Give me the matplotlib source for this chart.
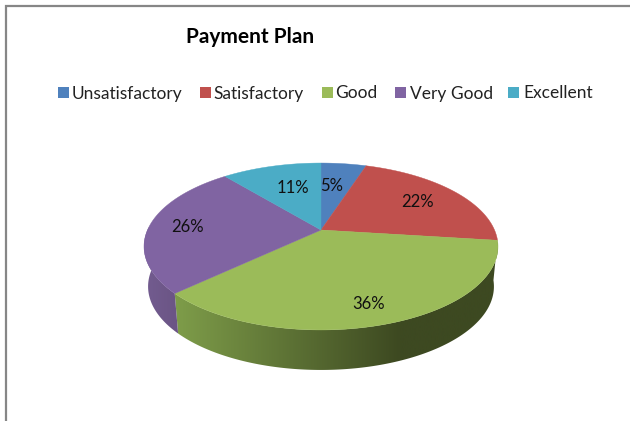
import numpy as np
import matplotlib
matplotlib.use('Agg')
import matplotlib.pyplot as plt
from matplotlib.colors import LinearSegmentedColormap
from matplotlib.patches import Polygon, Rectangle

labels = ['Unsatisfactory', 'Satisfactory', 'Good', 'Very Good', 'Excellent']
values = [5, 22, 36, 26, 11]
colors = ['#4f81bd', '#c0504d', '#9bbb59', '#8064a2', '#4bacc6']

plt.rcParams['font.family'] = ['Lato', 'DejaVu Sans']

# pie centre in pixels and the tilt of the disc
cx, cy = 321, 230
k, a, b = 0.1976, 80.2, 173.5
depth = 40
label_pos = [(332, 186), (417, 202), (369, 304), (187, 227), (293, 188)]
legend_box_x = [57.5, 200, 322, 395, 508]
legend_text_x = [71.5, 213.5, 335.5, 409.5, 523.5]


def rim(theta):
    # theta clockwise from 12 o'clock, perspective view of a circle
    u, v = np.sin(theta), np.cos(theta)
    d = 1 + k * v
    return cx + b * u / d, cy - a * v / d


def rim_low(theta):
    x, y = rim(theta)
    return cx + (x - cx) * 0.977, y + depth


fig = plt.figure(figsize=(6.3, 4.21), dpi=100)
ax = fig.add_axes([0, 0, 1, 1])
ax.axis('off')

# frame
ax.plot([6, 6, 630], [421, 6, 6], color='#868686', lw=1.6, solid_joinstyle='miter')

edges = np.cumsum([0] + values) / sum(values) * 2 * np.pi

# side walls, a horizontal gradient clipped to the wall outline
green_side = LinearSegmentedColormap.from_list('g', ['#7f9e4a', '#3d4921'])
purple_side = LinearSegmentedColormap.from_list('p', ['#735c90', '#6b5585'])
walls = [(2, green_side, 172, 400, 510), (3, purple_side, 144, 176, 190)]
for i, cmap, x_start, x_end, x_stop in walls:
    th = np.linspace(edges[i], min(edges[i + 1], np.radians(272)), 200)
    xt, yt = rim(th)
    xb, yb = rim_low(th)
    outline = Polygon(np.c_[np.r_[xt, xb[::-1]], np.r_[yt, yb[::-1]]], transform=ax.transData)
    grad = np.linspace(0, 1, 256).reshape(1, -1)
    im = ax.imshow(grad, cmap=cmap, extent=[x_start, x_end, 421, 0], aspect='auto')
    im.set_clip_path(outline)
    # past the end of the gradient the colour stays flat
    im2 = ax.imshow(grad * 0 + 1, cmap=cmap, vmin=0, vmax=1, extent=[x_end, x_stop, 421, 0], aspect='auto')
    im2.set_clip_path(outline)

# top face
for i, col in enumerate(colors):
    th = np.linspace(edges[i], edges[i + 1], 120)
    x, y = rim(th)
    ax.fill(np.r_[cx, x], np.r_[cy, y], color=col, lw=0.3)

for v, (px, py) in zip(values, label_pos):
    ax.text(px, py, f'{v}%', ha='center', va='center', fontsize=12, color='#101010')

ax.text(250.5, 37, 'Payment Plan', ha='center', va='center', fontsize=15, fontweight='bold', color='black')

# legend by hand, ax.legend does not keep the labels on one baseline
for name, col, bx, tx in zip(labels, colors, legend_box_x, legend_text_x):
    ax.add_patch(Rectangle((bx, 87), 11, 11, facecolor=col, edgecolor='none'))
    ax.text(tx, 98.5, name, ha='left', va='baseline', fontsize=12.5, color='#222222')

ax.set_xlim(0, 630)
ax.set_ylim(421, 0)

fig.savefig('out.png', dpi=100)
